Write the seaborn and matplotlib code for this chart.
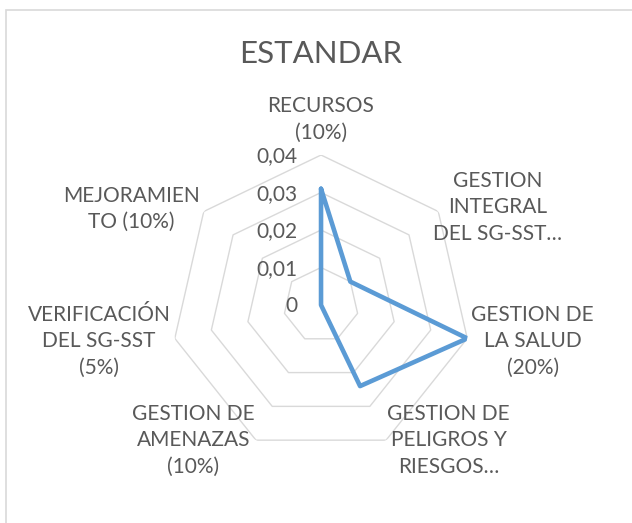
import numpy as np
import pandas as pd
import seaborn as sns
import matplotlib.pyplot as plt
from matplotlib.patches import Rectangle
from matplotlib.transforms import offset_copy

# datos del grafico radar
categorias = ["RECURSOS\n(10%)", "GESTION\nINTEGRAL\nDEL SG-SST…", "GESTION DE\nLA SALUD\n(20%)",
              "GESTION DE\nPELIGROS Y\nRIESGOS…", "GESTION DE\nAMENAZAS\n(10%)",
              "VERIFICACIÓN\nDEL SG-SST\n(5%)", "MEJORAMIEN\nTO (10%)"]
valores = [0.031, 0.010, 0.040, 0.024, 0.0, 0.0, 0.0]
niveles = [0.0, 0.01, 0.02, 0.03, 0.04]
etiquetas_niveles = ["0", "0,01", "0,02", "0,03", "0,04"]
titulo = "ESTANDAR"

sns.set_style("white")
plt.rcParams['font.family'] = ['Lato', 'DejaVu Sans']
gris = "#595959"

n = len(categorias)
angulos = np.linspace(0, 2 * np.pi, n, endpoint=False)
df = pd.DataFrame({"theta": np.append(angulos, angulos[0]),
                   "valor": np.append(valores, valores[0])})

fig = plt.figure(figsize=(6.32, 5.23), dpi=100)
ax = fig.add_axes([0.2706, 0.130, 0.4747, 0.5736], projection="polar")
ax.set_theta_offset(np.pi / 2)
ax.set_theta_direction(-1)
ax.set_ylim(0, 0.04)
ax.grid(False)
ax.spines['polar'].set_visible(False)
ax.set_xticks([])
ax.set_yticks([])
ax.patch.set_alpha(0)

# anillos heptagonales
for v in niveles[1:]:
    ax.plot(np.append(angulos, angulos[0]), [v] * (n + 1), color="#D9D9D9", lw=1, zorder=1)

sns.lineplot(data=df, x="theta", y="valor", sort=False, ax=ax, color="#5B9BD5",
             lw=3.3, zorder=3, estimator=None)
ax.set_xlabel("")
ax.set_ylabel("")
ax.set_ylim(0, 0.04)

# etiquetas del eje radial
tr = offset_copy(ax.transData, fig=fig, x=-17, y=-1, units='points')
for v, t in zip(niveles, etiquetas_niveles):
    ax.text(0, v, t, transform=tr, ha='right', va='center', fontsize=15, color=gris)

# etiquetas de categorias
alineacion = [('center', 'bottom', 0, 9), ('left', 'center', -4, 3), ('left', 'center', 3, -2),
              ('left', 'center', 1, 0), ('right', 'center', -1, 0), ('right', 'center', -3, -2),
              ('right', 'center', -3, 2)]
for ang, lab, (ha, va, dx, dy) in zip(angulos, categorias, alineacion):
    t = offset_copy(ax.transData, fig=fig, x=dx, y=dy, units='points')
    ax.text(ang, 0.04, lab, transform=t, ha=ha, va=va, multialignment='center',
            fontsize=15, color=gris, linespacing=1.4)

fig.text(0.508, 1 - 54 / 523, titulo, ha='center', va='center', fontsize=22.5, color=gris)
fig.patches.append(Rectangle((6 / 632, -0.1), 1.0, 1.1 - 10 / 523, transform=fig.transFigure,
                             fill=False, edgecolor="#D9D9D9", lw=1.2))

fig.savefig("out.png", dpi=100)
